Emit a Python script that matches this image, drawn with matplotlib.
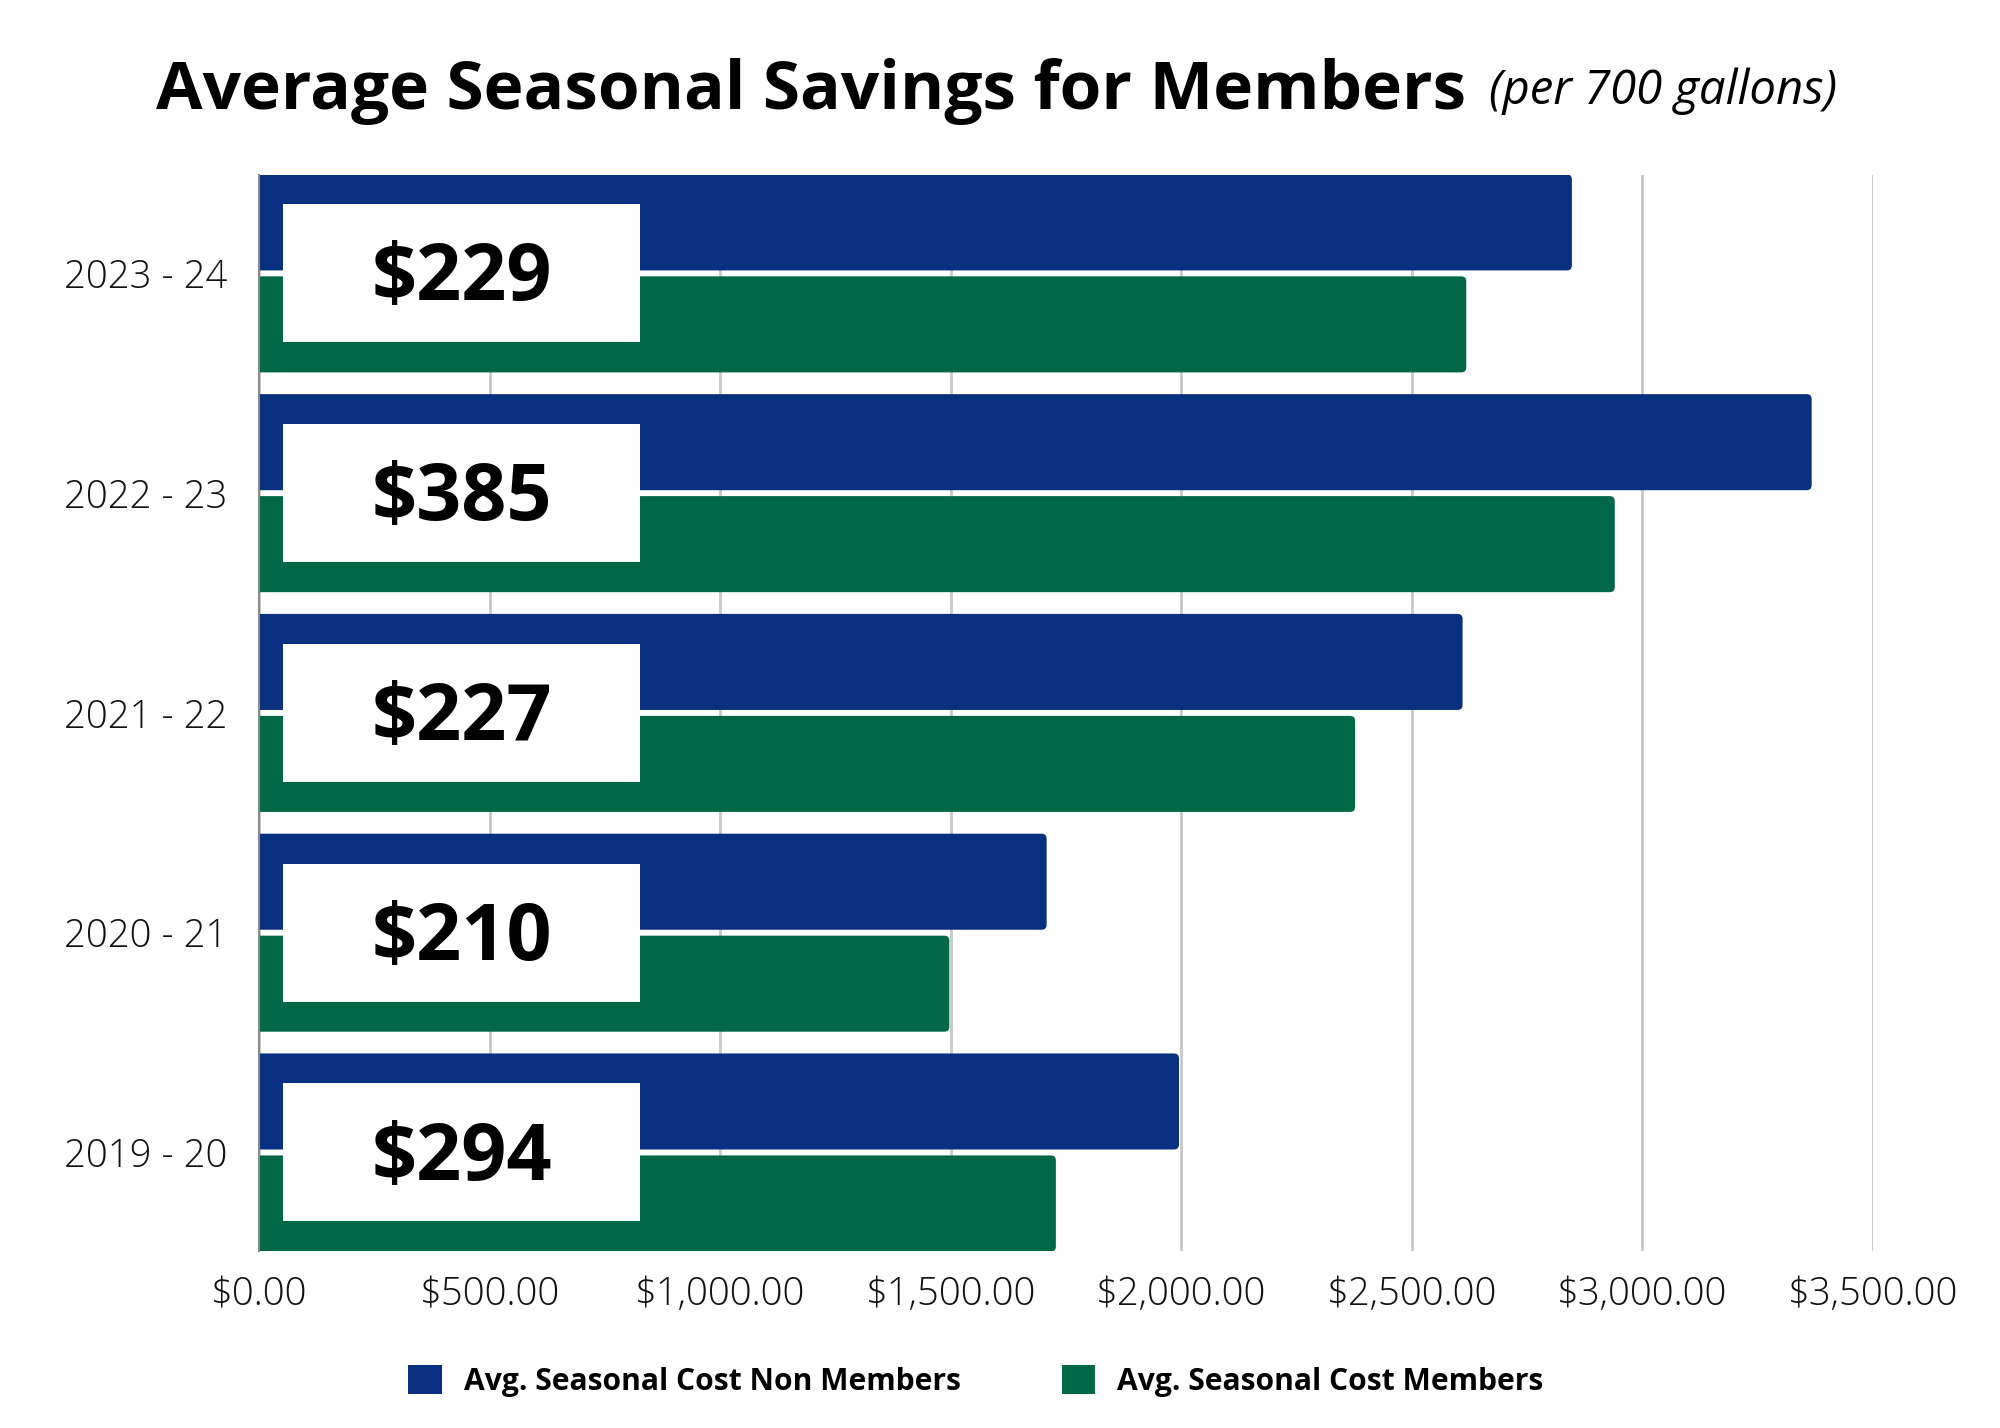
import matplotlib
matplotlib.use("Agg")
import matplotlib.pyplot as plt
from matplotlib.patches import Rectangle, FancyBboxPatch
from matplotlib.ticker import FuncFormatter
import numpy as np

seasons = ["2019 - 20", "2020 - 21", "2021 - 22", "2022 - 23", "2023 - 24"]
non_members = [1995, 1708, 2610, 3367, 2847]
members = [1728, 1497, 2377, 2940, 2618]
savings_labels = ["$294", "$210", "$227", "$385", "$229"]
x_ticks = [0, 500, 1000, 1500, 2000, 2500, 3000, 3500]

BLUE = "#082F80"
GREEN = "#006747"
FONT = ["Open Sans", "DejaVu Sans"]
plt.rcParams["font.family"] = FONT

fig = plt.figure(figsize=(20, 14.28), dpi=100)
ax = fig.add_axes([0.1295, 0.124, 0.807, 0.7535])

XMAX = 3500
Y0, Y1 = -0.448, len(seasons) - 1 + 0.448
ax.set_xlim(0, XMAX)
ax.set_ylim(Y0, Y1)

y = np.arange(len(seasons))
h = 0.437
off = 0.232
bars_nm = ax.barh(y + off, non_members, height=h, color=BLUE, zorder=2)
bars_m = ax.barh(y - off, members, height=h, color=GREEN, zorder=2)

# rounded right corners: replace each bar rectangle by a rounded box
ax_w_px = 0.807 * 2000
ax_h_px = 0.7535 * 1428
px_x = ax_w_px / XMAX
px_y = ax_h_px / (Y1 - Y0)
r_px = 5
r_x = r_px / px_x
aspect = (r_px / px_y) / r_x
rounded = {}
for cont, color in ((bars_nm, BLUE), (bars_m, GREEN)):
    lst = []
    for p in cont.patches:
        p.set_visible(False)
        x0, y0 = p.get_x(), p.get_y()
        w, hh = p.get_width(), p.get_height()
        fp = FancyBboxPatch((x0 - 3 * r_x, y0), w + 3 * r_x, hh,
                            boxstyle=f"round,pad=0,rounding_size={r_x}",
                            mutation_aspect=aspect, facecolor=color,
                            edgecolor="none", zorder=2)
        ax.add_patch(fp)
        lst.append(fp)
    rounded[color] = lst

box_h = 0.628
for yi, lab in zip(y, savings_labels):
    ax.add_patch(Rectangle((53, yi - box_h / 2), 827 - 53, box_h, facecolor="white",
                           edgecolor="none", zorder=3))
    ax.text((53 + 827) / 2, yi - 0.03, lab, ha="center", va="center", fontsize=57,
            fontweight="bold", color="black", zorder=4)

ax.set_xticks(x_ticks)
ax.xaxis.set_major_formatter(FuncFormatter(lambda v, p: f"${v:,.2f}"))
ax.set_yticks(y)
ax.set_yticklabels(seasons)
ax.tick_params(axis="both", length=0, labelsize=27.5, colors="#111111")
ax.tick_params(axis="x", pad=18)
ax.tick_params(axis="y", pad=23)
for lbl in ax.get_xticklabels() + ax.get_yticklabels():
    lbl.set_fontweight("light")

ax.grid(axis="x", color="#C8C8C8", linewidth=2)
ax.set_axisbelow(True)
for s in ["top", "right", "bottom"]:
    ax.spines[s].set_visible(False)
ax.spines["left"].set_color("#8A8A8A")
ax.spines["left"].set_linewidth(1.5)
ax.spines["left"].set_zorder(5)

fig.text(0.078, 0.924, "Average Seasonal Savings for Members", fontsize=48.6,
         fontweight="bold", ha="left", va="baseline")
fig.text(0.7443, 0.927, "(per 700 gallons)", fontsize=34, fontstyle="italic",
         ha="left", va="baseline")

fig.legend(handles=[rounded[BLUE][0], rounded[GREEN][0]],
           labels=["Avg. Seasonal Cost Non Members", "Avg. Seasonal Cost Members"],
           loc="center", bbox_to_anchor=(0.488, 0.033), ncol=2, frameon=False,
           prop={"size": 21.6, "weight": "bold"}, handlelength=1.12, handleheight=1.12,
           handletextpad=0.74, columnspacing=3.35)

fig.savefig("out.png", dpi=100, facecolor="white")
